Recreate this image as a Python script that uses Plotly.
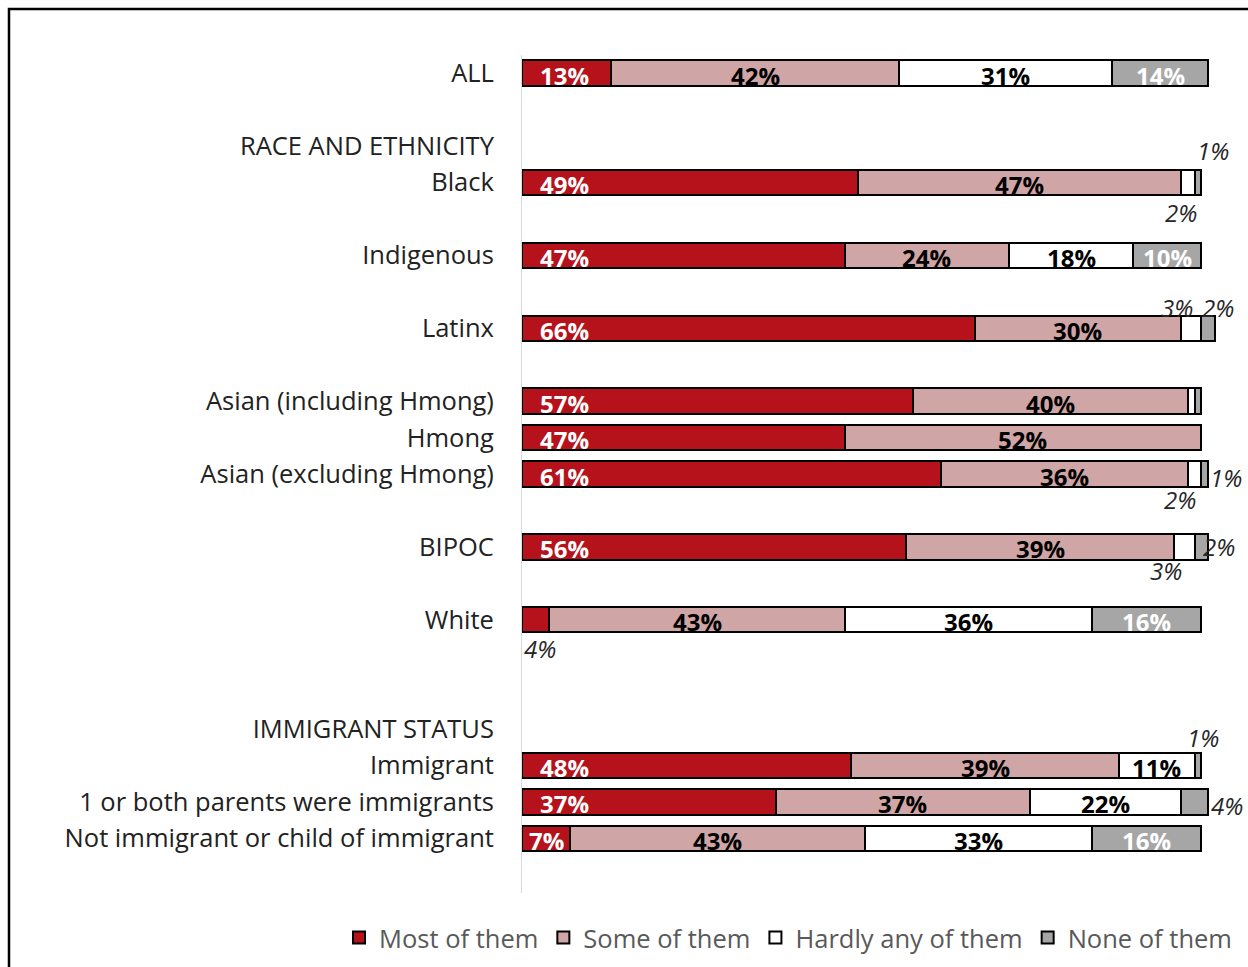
import plotly.graph_objects as go

# Row layout of the category axis, top to bottom ("" rows are spacers)
rows = [
    "ALL", "", "RACE AND ETHNICITY", "Black", "", "Indigenous", "", "Latinx", "",
    "Asian (including Hmong)", "Hmong", "Asian (excluding Hmong)", "", "BIPOC", "",
    "White", "", "", "IMMIGRANT STATUS", "Immigrant",
    "1 or both parents were immigrants", "Not immigrant or child of immigrant",
]

# Groups that carry a stacked bar
groups = [
    "ALL", "Black", "Indigenous", "Latinx", "Asian (including Hmong)", "Hmong",
    "Asian (excluding Hmong)", "BIPOC", "White", "Immigrant",
    "1 or both parents were immigrants", "Not immigrant or child of immigrant",
]

# Share of respondents (%) per answer
most_of_them = [13, 49, 47, 66, 57, 47, 61, 56, 4, 48, 37, 7]
some_of_them = [42, 47, 24, 30, 40, 52, 36, 39, 43, 39, 37, 43]
hardly_any = [31, 2, 18, 3, 1, 0, 2, 3, 36, 11, 22, 33]
none_of_them = [14, 1, 10, 2, 1, 0, 1, 2, 16, 1, 4, 16]

series_names = ["Most of them", "Some of them", "Hardly any of them", "None of them"]
series_values = [most_of_them, some_of_them, hardly_any, none_of_them]
fill_colors = ["#B5121B", "#D0A5A6", "#FFFFFF", "#A6A6A6"]
label_colors = ["#FFFFFF", "#000000", "#000000", "#FFFFFF"]

# Small segments get an italic label outside the bar: (x shift px, y shift px)
outside_labels = {
    ("Black", 3): (15, 32),
    ("Black", 2): (-7, -30),
    ("Latinx", 2): (-14, 21),
    ("Latinx", 3): (10, 21),
    ("Asian (excluding Hmong)", 3): (21, -3),
    ("Asian (excluding Hmong)", 2): (-15, -25),
    ("BIPOC", 3): (18, 0),
    ("BIPOC", 2): (-18, -24),
    ("White", 0): (4, -29),
    ("Immigrant", 3): (5, 28),
    ("1 or both parents were immigrants", 3): (32, -4),
}

FONT = "Open Sans"
W, H = 1248, 967
L, R, T, B = 522, 26, 55, 74
X_MAX = 102
plot_w = W - L - R
plot_h = H - T - B

y_pos = [rows.index(g) for g in groups]

fig = go.Figure()
for name, vals, fc in zip(series_names, series_values, fill_colors):
    fig.add_trace(go.Bar(
        name=name, y=y_pos, x=vals, orientation="h",
        marker=dict(color=fc, line=dict(color="#000000", width=2)),
        width=0.7, hoverinfo="skip",
    ))

annotations = []
for gi, g in enumerate(groups):
    base = 0.0
    for si, vals in enumerate(series_values):
        v = vals[gi]
        if v >= 7:
            if si == 0:
                cx = min(v / 2.0, 6.2)
            else:
                cx = base + v / 2.0
            annotations.append(dict(
                x=cx, y=y_pos[gi], xref="x", yref="y", text=f"<b>{v}%</b>",
                showarrow=False, yshift=-2,
                font=dict(family=FONT, size=24, color=label_colors[si]),
            ))
        elif (g, si) in outside_labels:
            dx, dy = outside_labels[(g, si)]
            annotations.append(dict(
                x=base + v / 2.0, y=y_pos[gi], xref="x", yref="y",
                text=f"<i>{v}%</i>", showarrow=False, xshift=dx, yshift=dy,
                font=dict(family=FONT, size=24, color="#262626"),
            ))
        base += v

fig.update_layout(
    width=W, height=H,
    margin=dict(l=L, r=R, t=T, b=B, autoexpand=False),
    barmode="stack", bargap=0.3,
    plot_bgcolor="#FFFFFF", paper_bgcolor="#FFFFFF",
    font=dict(family=FONT, size=25.5, color="#222222"),
    annotations=annotations,
    showlegend=True,
    legend=dict(
        orientation="h", x=(339 - L) / plot_w, xanchor="left",
        y=-(938 - (H - B)) / plot_h, yanchor="middle",
        font=dict(family=FONT, size=25.5, color="#595959"),
        traceorder="normal", itemclick=False, itemdoubleclick=False,
    ),
    shapes=[dict(
        type="rect", xref="paper", yref="paper", layer="above",
        x0=(9 - L) / plot_w, x1=(W + 20 - L) / plot_w,
        y0=(H - B - 9) / plot_h, y1=-(20 + B) / plot_h,
        line=dict(color="#000000", width=2.5),
    )],
)

fig.update_xaxes(range=[0, X_MAX], visible=False, fixedrange=True)
fig.update_yaxes(
    range=[len(rows) + 0.5, -0.5],
    tickmode="array", tickvals=list(range(len(rows))), ticktext=rows,
    showline=True, linecolor="#D9D9D9", linewidth=1, ticks="",
    showgrid=False, zeroline=False, ticklabelstandoff=22,
    tickfont=dict(family=FONT, size=25.5, color="#222222"),
    fixedrange=True,
)

fig.write_html("out.html", config={"displayModeBar": False})
